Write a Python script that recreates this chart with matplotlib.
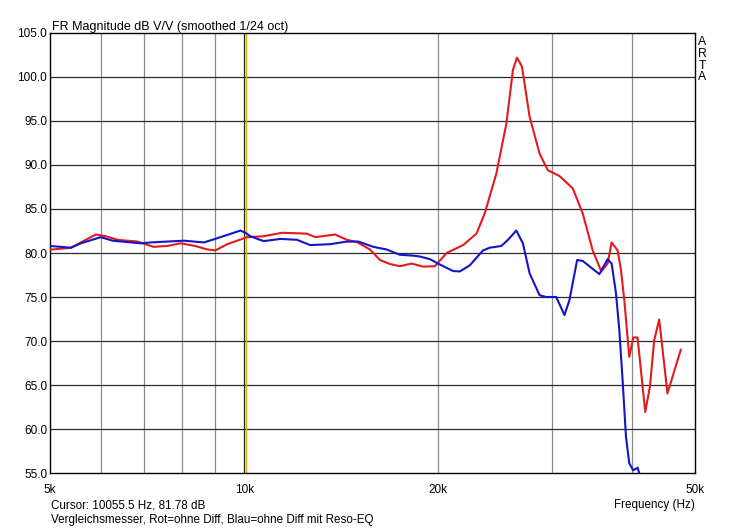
import matplotlib
matplotlib.use("Agg")
import matplotlib.pyplot as plt
from matplotlib.ticker import FixedLocator, NullLocator

plt.rcParams['font.family'] = ['Liberation Sans', 'DejaVu Sans']

# ---- data (frequency in Hz, magnitude in dB) ----
red_freq = [5000, 5048, 5388, 5583, 5889, 6102, 6362, 6832, 7238, 7600, 7970, 8400,
            8765, 9028, 9411, 10105, 10709, 11445, 12512, 12887, 13837, 14425, 14948,
            15670, 16238, 16826, 17434, 18176, 18942, 19757, 20598, 21850, 22918,
            23604, 24607, 25498, 26104, 26478, 26954, 27703, 28706, 29568, 30823,
            32316, 33487, 34699, 35790, 36602, 37128, 37930, 38391, 38845, 39543,
            40110, 40729, 41860, 42567, 43224, 44000, 45319, 47522]
red_db = [80.4, 80.4, 80.6, 81.2, 82.1, 81.9, 81.5, 81.3, 80.7, 80.8, 81.1, 80.8,
          80.4, 80.3, 81.0, 81.8, 81.9, 82.3, 82.2, 81.8, 82.1, 81.5, 81.25,
          80.4, 79.2, 78.75, 78.5, 78.8, 78.45, 78.5, 80.0, 80.9, 82.2,
          84.5, 89.05, 94.7, 100.8, 102.2, 101.2, 95.5, 91.3, 89.4, 88.75,
          87.35, 84.5, 80.3, 77.9, 78.8, 81.2, 80.3, 78.05, 74.65, 68.2,
          70.4, 70.4, 61.95, 64.8, 70.1, 72.45, 64.05, 69.0]

blue_freq = [5000, 5388, 5583, 5994, 6250, 6912, 7162, 8064, 8659, 8973, 9868, 10044,
             10224, 10720, 11376, 12074, 12660, 13593, 14425, 15033, 15856, 16629,
             17434, 18280, 18721, 19408, 20104, 21085, 21595, 22377, 23461, 24027,
             25048, 25643, 26421, 27049, 27703, 28706, 29399, 30464, 31376, 31939,
             32826, 33487, 35536, 36602, 37128, 37714, 38161, 38611, 39081, 39543,
             40110, 40729, 40975]
blue_db = [80.8, 80.6, 81.1, 81.8, 81.4, 81.1, 81.2, 81.4, 81.2, 81.55, 82.55, 82.3,
           81.9, 81.35, 81.6, 81.5, 80.9, 81.0, 81.3, 81.3, 80.7, 80.4,
           79.8, 79.7, 79.6, 79.3, 78.7, 77.95, 77.9, 78.6, 80.3, 80.6,
           80.8, 81.5, 82.55, 81.1, 77.7, 75.2, 75.0, 75.0, 72.95, 74.65,
           79.2, 79.1, 77.6, 79.3, 78.8, 75.4, 71.25, 65.55, 59.1, 56.1,
           55.3, 55.6, 55.0]

y_ticks = [55, 60, 65, 70, 75, 80, 85, 90, 95, 100, 105]
y_tick_labels = ["55.0", "60.0", "65.0", "70.0", "75.0", "80.0", "85.0", "90.0",
                 "95.0", "100.0", "105.0"]
x_major = [5000, 10000, 20000, 50000]
x_major_labels = ["5k", "10k", "20k", "50k"]
x_grid = [6000, 7000, 8000, 9000, 10000, 20000, 30000, 40000]
cursor_freq = 10055.5

title = "FR Magnitude dB V/V (smoothed 1/24 oct)"
cursor_text = "Cursor: 10055.5 Hz, 81.78 dB"
note_text = "Vergleichsmesser, Rot=ohne Diff, Blau=ohne Diff mit Reso-EQ"
xlabel = "Frequency (Hz)"

# ---- figure ----
W, H = 745, 530
fig = plt.figure(figsize=(W / 100, H / 100), dpi=100)
L, R, T, B = 50, 695, 33, 473
ax = fig.add_axes([L / W, 1 - B / H, (R - L) / W, (B - T) / H])
ax.set_xscale('log')
ax.set_xlim(5000, 50000)
ax.set_ylim(55, 105)

for f in x_grid:
    col = '#202020' if f == 10000 else '#8c8c8c'
    ax.axvline(f, color=col, lw=0.9, zorder=1)
for v in y_ticks[1:-1]:
    ax.axhline(v, color='#2a2a2a', lw=0.9, zorder=1)
ax.axvline(cursor_freq, color='#c8b400', lw=1.0, zorder=2)

ax.plot(red_freq, red_db, color='#e41a1c', lw=1.5, zorder=3)
ax.plot(blue_freq, blue_db, color='#1414c8', lw=1.5, zorder=4)

ax.xaxis.set_major_locator(FixedLocator(x_major))
ax.xaxis.set_minor_locator(NullLocator())
ax.set_xticklabels(x_major_labels)
ax.yaxis.set_major_locator(FixedLocator(y_ticks))
ax.set_yticklabels(y_tick_labels)
ax.tick_params(axis='both', length=0, labelsize=8.5, colors='black')
ax.tick_params(axis='x', pad=8)
ax.tick_params(axis='y', pad=2)
for s in ax.spines.values():
    s.set_color('black')
    s.set_linewidth(1.0)

def px(x, y):
    return x / W, 1 - y / H

fig.text(*px(52, 30), title, fontsize=9, ha='left', va='baseline')
fig.text(*px(702, 36), "A\nR\nT\nA", fontsize=8.8, ha='center', va='top', linespacing=0.98)
fig.text(*px(51, 505), cursor_text, fontsize=8.4, ha='left', va='center')
fig.text(*px(51, 519.5), note_text, fontsize=8.4, ha='left', va='center')
fig.text(*px(695, 505), xlabel, fontsize=8.4, ha='right', va='center')

fig.savefig("out.png", dpi=100)
